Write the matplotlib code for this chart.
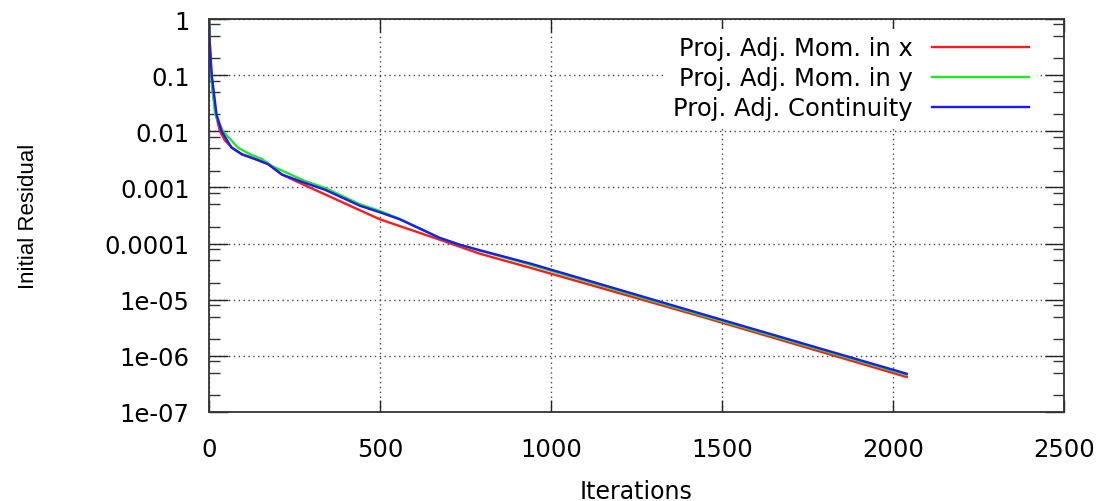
import numpy as np
import matplotlib.pyplot as plt
from matplotlib.ticker import FixedLocator, FixedFormatter, NullFormatter

# residual histories
x_mom_x = [0, 2, 5, 10, 20, 32, 47, 66, 96, 135, 173, 213, 266, 400, 500, 675, 792, 940, 1440, 2040]
res_mom_x = [1.0, 0.4, 0.15, 0.06, 0.02, 0.01, 0.0068, 0.0052, 0.0039, 0.0032, 0.0026, 0.0017,
             0.0012, 5.1e-4, 2.7e-4, 1.17e-4, 6.6e-5, 3.7e-5, 5.0e-6, 4.2e-7]

x_mom_y = [0, 2, 6, 18, 41, 85, 120, 155, 184, 281, 339, 442, 500, 558, 675, 734, 792, 940, 1440, 2040]
res_mom_y = [1.0, 0.3, 0.1, 0.02, 0.01, 0.0051, 0.0039, 0.0032, 0.0024, 0.0013, 9.8e-4, 5.0e-4,
             3.8e-4, 2.75e-4, 1.26e-4, 9.5e-5, 7.5e-5, 4.2e-5, 5.3e-6, 4.6e-7]

x_cont = [0, 2, 8, 22, 37, 66, 96, 135, 173, 213, 281, 339, 442, 500, 558, 675, 734, 792, 940, 1440, 2040]
res_cont = [1.0, 0.4, 0.1, 0.02, 0.01, 0.0051, 0.0039, 0.0032, 0.0026, 0.0017, 0.0012, 9.1e-4,
            4.7e-4, 3.6e-4, 2.7e-4, 1.26e-4, 9.5e-5, 7.6e-5, 4.4e-5, 5.6e-6, 4.8e-7]

labels = ['Proj. Adj. Mom. in x', 'Proj. Adj. Mom. in y', 'Proj. Adj. Continuity']
colors = ['#ff1a1a', '#1ee81e', '#1a1aff']

y_ticks = [1e-7, 1e-6, 1e-5, 1e-4, 1e-3, 1e-2, 1e-1, 1]
y_tick_labels = ['1e-07', '1e-06', '1e-05', '0.0001', '0.001', '0.01', '0.1', '1']
x_ticks = [0, 500, 1000, 1500, 2000, 2500]

plt.rcParams['font.family'] = ['DejaVu Sans']

fig = plt.figure(figsize=(11.09, 5.02), dpi=100)
ax = fig.add_axes([209 / 1109, 1 - 413 / 502, 855 / 1109, 393 / 502])

for xs, ys, lab, col in zip([x_mom_x, x_mom_y, x_cont], [res_mom_x, res_mom_y, res_cont], labels, colors):
    ax.plot(xs, ys, color=col, lw=1.7, label=lab)

ax.set_yscale('log')
ax.set_xlim(0, 2500)
ax.set_ylim(1e-7, 1)

ax.yaxis.set_major_locator(FixedLocator(y_ticks))
ax.yaxis.set_major_formatter(FixedFormatter(y_tick_labels))
minor = [m * 10.0 ** e for e in range(-7, 0) for m in (2, 5, 8)]
ax.yaxis.set_minor_locator(FixedLocator(minor))
ax.yaxis.set_minor_formatter(NullFormatter())
ax.set_xticks(x_ticks)

ax.tick_params(axis='y', which='major', direction='in', length=14, width=1, left=True, right=True,
               labelsize=17.5, pad=14, colors='#222222')
ax.tick_params(axis='y', which='minor', direction='in', length=8, width=1, left=True, right=True,
               colors='#333333')
ax.tick_params(axis='x', which='major', direction='in', length=9, width=1, bottom=True, top=True,
               labelsize=17.5, pad=18, colors='#222222')
ax.tick_params(axis='x', which='minor', bottom=False, top=False)
ax.tick_params(labelcolor='black')

ax.grid(True, which='major', color='#444444', linestyle=(0, (1, 2.5)), lw=1)
for s in ax.spines.values():
    s.set_color('#333333')
    s.set_linewidth(1.3)

ax.set_xlabel('Iterations', fontsize=17)
ax.xaxis.label.set_va('center')
ax.xaxis.set_label_coords(0.5, -0.201)
ax.set_ylabel('Initial Residual', fontsize=16, family=['Liberation Sans', 'DejaVu Sans'])
ax.yaxis.set_label_coords(-0.199, 0.5)

leg = ax.legend(loc='upper right', bbox_to_anchor=(0.968, 0.975), fontsize=17.5, markerfirst=False,
                handlelength=4.0, handletextpad=0.8, labelspacing=0.25, borderaxespad=0,
                borderpad=0.3, frameon=True, fancybox=False, framealpha=1, edgecolor='white')
leg.get_frame().set_linewidth(0)

fig.savefig('out.png', dpi=100)
